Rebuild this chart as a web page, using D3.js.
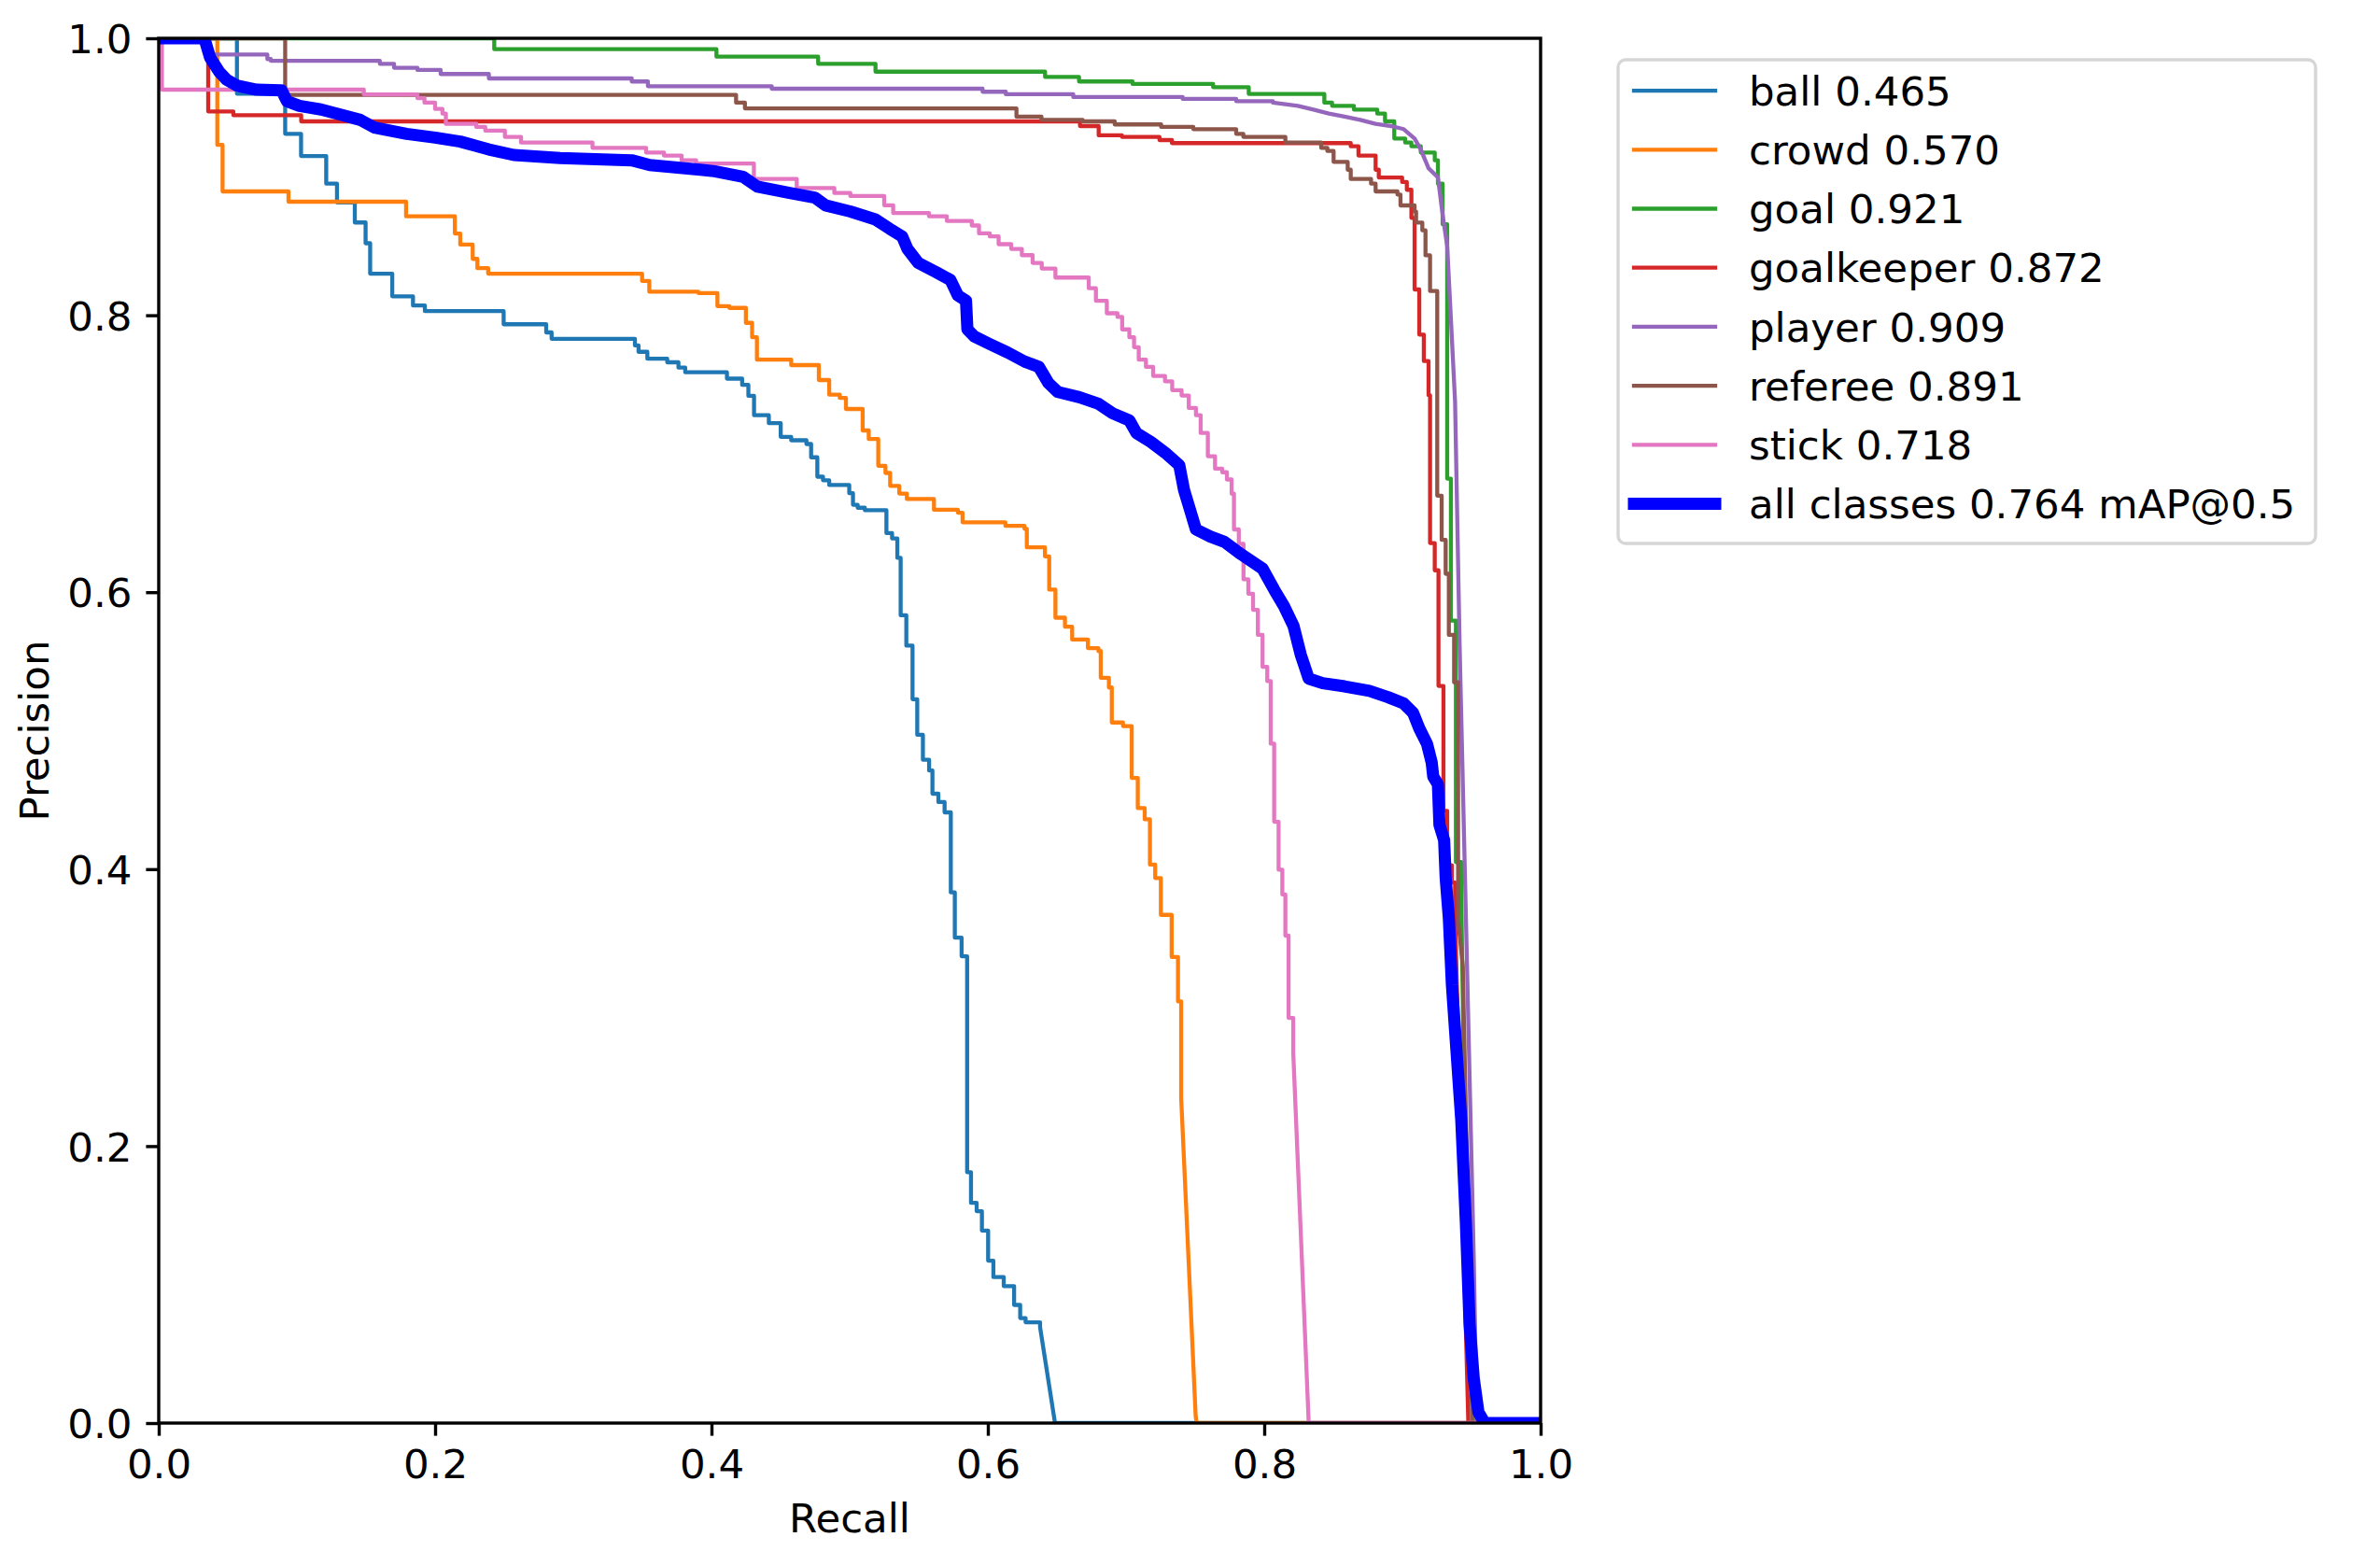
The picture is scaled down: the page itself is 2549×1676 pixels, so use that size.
<!DOCTYPE html>
<html><head><meta charset="utf-8">
<script src="https://cdn.jsdelivr.net/npm/d3@7"></script>
<style>
body{margin:0;background:#fff;}
text{font-family:"DejaVu Sans",sans-serif;fill:#000;}
</style>
</head><body>
<svg id="chart" width="2549" height="1676"></svg>
<script>
// ---------- data ----------
const classNames = ["ball","crowd","goal","goalkeeper","player","referee","stick"];
const classAP    = [0.465, 0.570, 0.921, 0.872, 0.909, 0.891, 0.718];
const allClassesMAP = 0.764;
const xTicks = [0.0, 0.2, 0.4, 0.6, 0.8, 1.0];
const yTicks = [0.0, 0.2, 0.4, 0.6, 0.8, 1.0];

// step knots: [recall where precision steps, new precision]; tails: straight segments after last knot
const ballSteps = [[0,1],[0.0566,0.960],[0.0915,0.931],[0.103,0.915],[0.1212,0.895],[0.129,0.8815],[0.1419,0.867],[0.1497,0.852],[0.153,0.830],[0.169,0.8137],[0.184,0.807],[0.1926,0.803],[0.2496,0.7935],[0.2804,0.7876],[0.2843,0.783],[0.3446,0.7782],[0.3472,0.7736],[0.3536,0.7686],[0.368,0.766],[0.3761,0.7622],[0.381,0.7588],[0.4112,0.7542],[0.4222,0.7497],[0.4267,0.7418],[0.4308,0.7278],[0.4415,0.7221],[0.4501,0.7122],[0.4577,0.7097],[0.4687,0.707],[0.4721,0.6974],[0.4766,0.6834],[0.4807,0.6808],[0.4852,0.6774],[0.4997,0.6715],[0.5024,0.6631],[0.5058,0.661],[0.511,0.6592],[0.5266,0.6427],[0.5307,0.6388],[0.5345,0.6248],[0.5369,0.5833],[0.541,0.5614],[0.5455,0.5227],[0.5489,0.497],[0.553,0.479],[0.5575,0.4712],[0.5599,0.4545],[0.5642,0.4485],[0.5687,0.441],[0.5732,0.3832],[0.5761,0.3505],[0.581,0.3371],[0.585,0.1812],[0.5878,0.159],[0.5919,0.153],[0.5957,0.139],[0.6002,0.1173],[0.604,0.1054],[0.6115,0.0989],[0.619,0.0853],[0.6234,0.0758],[0.6273,0.0728],[0.6378,0.0692]];
const ballTail = [[0.6486,0],[1,0]];

const crowdSteps = [[0,1],[0.0424,0.923],[0.0462,0.8894],[0.0939,0.882],[0.179,0.8714],[0.2143,0.859],[0.2182,0.851],[0.2272,0.8407],[0.2306,0.834],[0.2384,0.830],[0.3498,0.8247],[0.355,0.817],[0.3905,0.816],[0.4043,0.8066],[0.4129,0.8053],[0.4249,0.7945],[0.4294,0.7841],[0.4329,0.7679],[0.4577,0.764],[0.4777,0.7532],[0.4852,0.7426],[0.4928,0.7403],[0.4973,0.7323],[0.5094,0.7168],[0.5138,0.7106],[0.5207,0.6913],[0.5259,0.6861],[0.5293,0.6768],[0.5359,0.6712],[0.5414,0.6673],[0.561,0.6595],[0.5783,0.6574],[0.5817,0.6505],[0.6127,0.6479],[0.6265,0.6458],[0.6282,0.6324],[0.6413,0.6259],[0.6444,0.6019],[0.6489,0.5816],[0.6558,0.5751],[0.661,0.5658],[0.6724,0.5596],[0.68,0.5575],[0.6817,0.5382],[0.6876,0.5312],[0.6897,0.5059],[0.6978,0.5033],[0.7041,0.4659],[0.7085,0.4441],[0.7135,0.436],[0.7173,0.4033],[0.7211,0.3936],[0.7252,0.367],[0.733,0.3366],[0.7376,0.3045],[0.7399,0.2347]];
const crowdTail = [[0.7504,0.005],[0.7511,0],[1,0]];

const goalSteps = [[0,1],[0.2428,0.9921],[0.4036,0.9867],[0.4772,0.9816],[0.5187,0.9759],[0.6414,0.9721],[0.666,0.9688],[0.7047,0.967],[0.763,0.9647],[0.7888,0.9598],[0.8435,0.9535],[0.8491,0.9512],[0.8649,0.9485],[0.8818,0.9456],[0.8874,0.94],[0.8941,0.9276],[0.902,0.9247],[0.9065,0.922],[0.9133,0.9175],[0.9234,0.9119],[0.9257,0.895],[0.9291,0.8657],[0.9324,0.682],[0.9351,0.5795],[0.9387,0.4051],[0.9426,0.3806]];
const goalTail = [[0.9445,0.25],[0.9505,0.05],[0.9527,0],[1,0]];

const goalkeeperSteps = [[0,1],[0.0358,0.9472],[0.054,0.9445],[0.1031,0.94],[0.6667,0.9366],[0.6802,0.9299],[0.697,0.9288],[0.7242,0.9265],[0.7332,0.9243],[0.8626,0.922],[0.8682,0.9153],[0.8806,0.9051],[0.8829,0.8995],[0.8998,0.8962],[0.9032,0.8906],[0.9065,0.8703],[0.9088,0.8186],[0.9122,0.786],[0.9155,0.7669],[0.9189,0.7422],[0.92,0.6355],[0.9234,0.6158],[0.9261,0.5323],[0.9297,0.4421],[0.9324,0.4028],[0.9358,0.3904],[0.9381,0.3659]];
const goalkeeperTail = [[0.9477,0],[1,0]];

const playerSteps = [[0,1],[0.036,0.9883],[0.0786,0.985],[0.0811,0.9838],[0.16,0.9816],[0.1703,0.9787],[0.1872,0.9771],[0.204,0.9742],[0.2389,0.971],[0.3423,0.9688],[0.354,0.9654],[0.4436,0.9636],[0.5962,0.9614],[0.613,0.9596],[0.6618,0.9576],[0.741,0.9562],[0.7797,0.9546],[0.8063,0.9535]];
const playerTail = [[0.8243,0.9512],[0.8356,0.9485],[0.8468,0.9456],[0.8581,0.9434],[0.8694,0.9411],[0.8806,0.9382],[0.8919,0.9366],[0.9009,0.9344],[0.9088,0.9276],[0.9133,0.9197],[0.9189,0.9062],[0.9257,0.8995],[0.9291,0.8725],[0.9324,0.85],[0.9347,0.805],[0.9381,0.7377],[0.9414,0.5618],[0.9448,0.4148],[0.9482,0.2677],[0.9516,0.1207],[0.9538,0],[1,0]];

const refereeSteps = [[0,1],[0.0915,0.9591],[0.4178,0.9535],[0.4242,0.9494],[0.6207,0.9434],[0.6388,0.9411],[0.6686,0.94],[0.6918,0.9378],[0.7254,0.936],[0.7487,0.9344],[0.7797,0.931],[0.7849,0.9288],[0.8153,0.9247],[0.8412,0.9209],[0.8457,0.9186],[0.8502,0.9108],[0.8604,0.9051],[0.8626,0.8984],[0.8773,0.895],[0.8806,0.8894],[0.8964,0.8872],[0.8986,0.8793],[0.9088,0.8748],[0.9099,0.8669],[0.9144,0.8613],[0.9167,0.8433],[0.92,0.8175],[0.9252,0.6697],[0.9284,0.6378],[0.9313,0.6133],[0.9336,0.5692],[0.9374,0.5349],[0.9403,0.3633]];
const refereeTail = [[0.9437,0.33],[0.9505,0],[1,0]];

const stickSteps = [[0,1],[0.0023,0.9629],[0.1484,0.9595],[0.1872,0.9568],[0.1923,0.9535],[0.2,0.949],[0.2053,0.9456],[0.2078,0.9382],[0.2298,0.936],[0.2363,0.9333],[0.2505,0.9288],[0.2622,0.9247],[0.3139,0.9209],[0.3527,0.9175],[0.3656,0.9153],[0.3784,0.9119],[0.3889,0.9096],[0.4307,0.8985],[0.4617,0.8918],[0.4889,0.8883],[0.5005,0.8861],[0.525,0.8794],[0.5315,0.8738],[0.5574,0.8715],[0.5703,0.8681],[0.5884,0.8648],[0.5936,0.8591],[0.6014,0.8569],[0.6078,0.8513],[0.6169,0.8479],[0.6246,0.8434],[0.6324,0.8378],[0.639,0.8337],[0.6489,0.8272],[0.673,0.8195],[0.6782,0.8104],[0.6861,0.8014],[0.6938,0.7988],[0.6972,0.7898],[0.7024,0.7841],[0.7058,0.7769],[0.7092,0.7679],[0.7144,0.7627],[0.7196,0.7562],[0.7282,0.7523],[0.7334,0.7459],[0.7402,0.742],[0.7454,0.733],[0.7506,0.7278],[0.754,0.715],[0.7592,0.6982],[0.7644,0.6892],[0.7696,0.6866],[0.773,0.6814],[0.7764,0.6711],[0.7781,0.6453],[0.7816,0.635],[0.785,0.6093],[0.7885,0.5989],[0.7919,0.5873],[0.7954,0.5692],[0.7988,0.5461],[0.8022,0.5358],[0.8047,0.4906],[0.8072,0.4342],[0.8104,0.3996],[0.8131,0.3817],[0.8153,0.352],[0.8176,0.2926],[0.821,0.2674]];
const stickTail = [[0.8322,0],[1,0]];

const allClassesPR = [[0,1],[0.033,1],[0.0372,0.986],[0.0436,0.976],[0.0489,0.9703],[0.0566,0.9658],[0.0708,0.9629],[0.0889,0.9624],[0.0928,0.9546],[0.1018,0.9512],[0.1174,0.9486],[0.1329,0.9445],[0.1458,0.9411],[0.1561,0.9355],[0.1794,0.931],[0.2,0.9283],[0.2182,0.9254],[0.2389,0.9197],[0.257,0.9157],[0.2905,0.9135],[0.3423,0.9119],[0.3553,0.9085],[0.3919,0.9051],[0.4022,0.904],[0.4229,0.9],[0.4333,0.8928],[0.4565,0.8883],[0.4747,0.885],[0.4824,0.8794],[0.5005,0.8749],[0.5186,0.8692],[0.5289,0.8625],[0.538,0.8569],[0.5418,0.8479],[0.5496,0.8378],[0.5626,0.8311],[0.5729,0.8255],[0.5783,0.8143],[0.5842,0.8105],[0.5852,0.7898],[0.5903,0.7846],[0.6007,0.7795],[0.6145,0.773],[0.6265,0.7666],[0.6369,0.7627],[0.6438,0.7511],[0.6506,0.7446],[0.6662,0.7408],[0.68,0.7361],[0.6903,0.7292],[0.7024,0.724],[0.7075,0.715],[0.7179,0.7085],[0.7282,0.7008],[0.7385,0.6918],[0.742,0.6737],[0.7506,0.6453],[0.761,0.6402],[0.7713,0.6363],[0.7834,0.6273],[0.7988,0.617],[0.8074,0.6015],[0.8143,0.5899],[0.8212,0.5756],[0.8264,0.555],[0.8322,0.5376],[0.8423,0.5343],[0.8581,0.532],[0.8761,0.5287],[0.8896,0.5242],[0.9009,0.5197],[0.9077,0.5129],[0.9122,0.5017],[0.9178,0.4905],[0.9212,0.477],[0.9223,0.4669],[0.9257,0.4612],[0.9268,0.432],[0.9302,0.4208],[0.9313,0.3938],[0.9336,0.3646],[0.9358,0.3167],[0.9392,0.2677],[0.9426,0.2186],[0.9459,0.1452],[0.9486,0.0716],[0.9516,0.0324],[0.955,0.0079],[0.9595,0],[1,0]];

const classColors = ["#1f77b4","#ff7f0e","#2ca02c","#d62728","#9467bd","#8c564b","#e377c2"];
const allColor = "#0000ff";

// ---------- layout ----------
const W = 2549, H = 1676;
const L = 170, R = 1650, T = 41, B = 1524;
const FS = 43.5;
const thin = 4.3, thick = 13, axisW = 3.4;

const svg = d3.select("#chart");
svg.append("rect").attr("width",W).attr("height",H).attr("fill","#fff");

const x = d3.scaleLinear().domain([0,1]).range([L,R]);
const y = d3.scaleLinear().domain([0,1]).range([B,T]);

function expand(steps, tail){
  const pts = [];
  steps.forEach((k,i)=>{ if(i>0) pts.push([k[0], steps[i-1][1]]); pts.push(k); });
  const last = steps[steps.length-1];
  return pts.concat(tail);
}
const series = [
  expand(ballSteps, ballTail),
  expand(crowdSteps, crowdTail),
  expand(goalSteps, goalTail),
  expand(goalkeeperSteps, goalkeeperTail),
  expand(playerSteps, playerTail),
  expand(refereeSteps, refereeTail),
  expand(stickSteps, stickTail)
];

svg.append("defs").append("clipPath").attr("id","plotclip")
  .append("rect").attr("x",L).attr("y",T).attr("width",R-L).attr("height",B-T);

const line = d3.line().x(d=>x(d[0])).y(d=>y(d[1]));
const g = svg.append("g").attr("clip-path","url(#plotclip)");
series.forEach((s,i)=>{
  g.append("path").attr("d",line(s)).attr("fill","none")
    .attr("stroke",classColors[i]).attr("stroke-width",thin)
    .attr("stroke-linejoin","round");
});
g.append("path").attr("d",line(allClassesPR)).attr("fill","none")
  .attr("stroke",allColor).attr("stroke-width",thick)
  .attr("stroke-linejoin","round");

// axes
const fmt = d3.format(".1f");
const xAxis = svg.append("g").attr("transform",`translate(0,${B})`)
  .call(d3.axisBottom(x).tickValues(xTicks).tickFormat(fmt).tickSize(13.6).tickPadding(15));
const yAxis = svg.append("g").attr("transform",`translate(${L},0)`)
  .call(d3.axisLeft(y).tickValues(yTicks).tickFormat(fmt).tickSize(13.6).tickPadding(15));
[xAxis,yAxis].forEach(a=>{
  a.select(".domain").remove();
  a.selectAll(".tick line").attr("stroke","#000").attr("stroke-width",axisW);
  a.selectAll(".tick text").attr("font-size",FS).attr("font-family","DejaVu Sans").attr("fill","#000");
});
yAxis.selectAll(".tick text").attr("dy","0.36em");

svg.append("rect").attr("x",L).attr("y",T).attr("width",R-L).attr("height",B-T)
  .attr("fill","none").attr("stroke","#000").attr("stroke-width",axisW);

svg.append("text").attr("x",(L+R)/2).attr("y",1641).attr("text-anchor","middle")
  .attr("font-size",FS).text("Recall");
svg.append("text").attr("transform",`translate(52,${(T+B)/2}) rotate(-90)`)
  .attr("text-anchor","middle").attr("font-size",FS).text("Precision");

// legend
const lg = svg.append("g");
lg.append("rect").attr("x",1733).attr("y",64).attr("width",747).attr("height",518)
  .attr("rx",8).attr("fill","#fff").attr("fill-opacity",0.8)
  .attr("stroke","#d6d6d6").attr("stroke-width",axisW);
const labels = classNames.map((n,i)=>`${n} ${classAP[i].toFixed(3)}`)
  .concat([`all classes ${allClassesMAP.toFixed(3)} mAP@0.5`]);
const colors = classColors.concat([allColor]);
labels.forEach((t,i)=>{
  const yy = 97.1 + i*63.2;
  lg.append("line").attr("x1",1750).attr("x2",1837).attr("y1",yy).attr("y2",yy)
    .attr("stroke",colors[i]).attr("stroke-width", i===7?thick:thin).attr("stroke-linecap","square");
  lg.append("text").attr("x",1873).attr("y",yy).attr("dy","0.36em")
    .attr("font-size",FS).text(t);
});
</script>
</body></html>
